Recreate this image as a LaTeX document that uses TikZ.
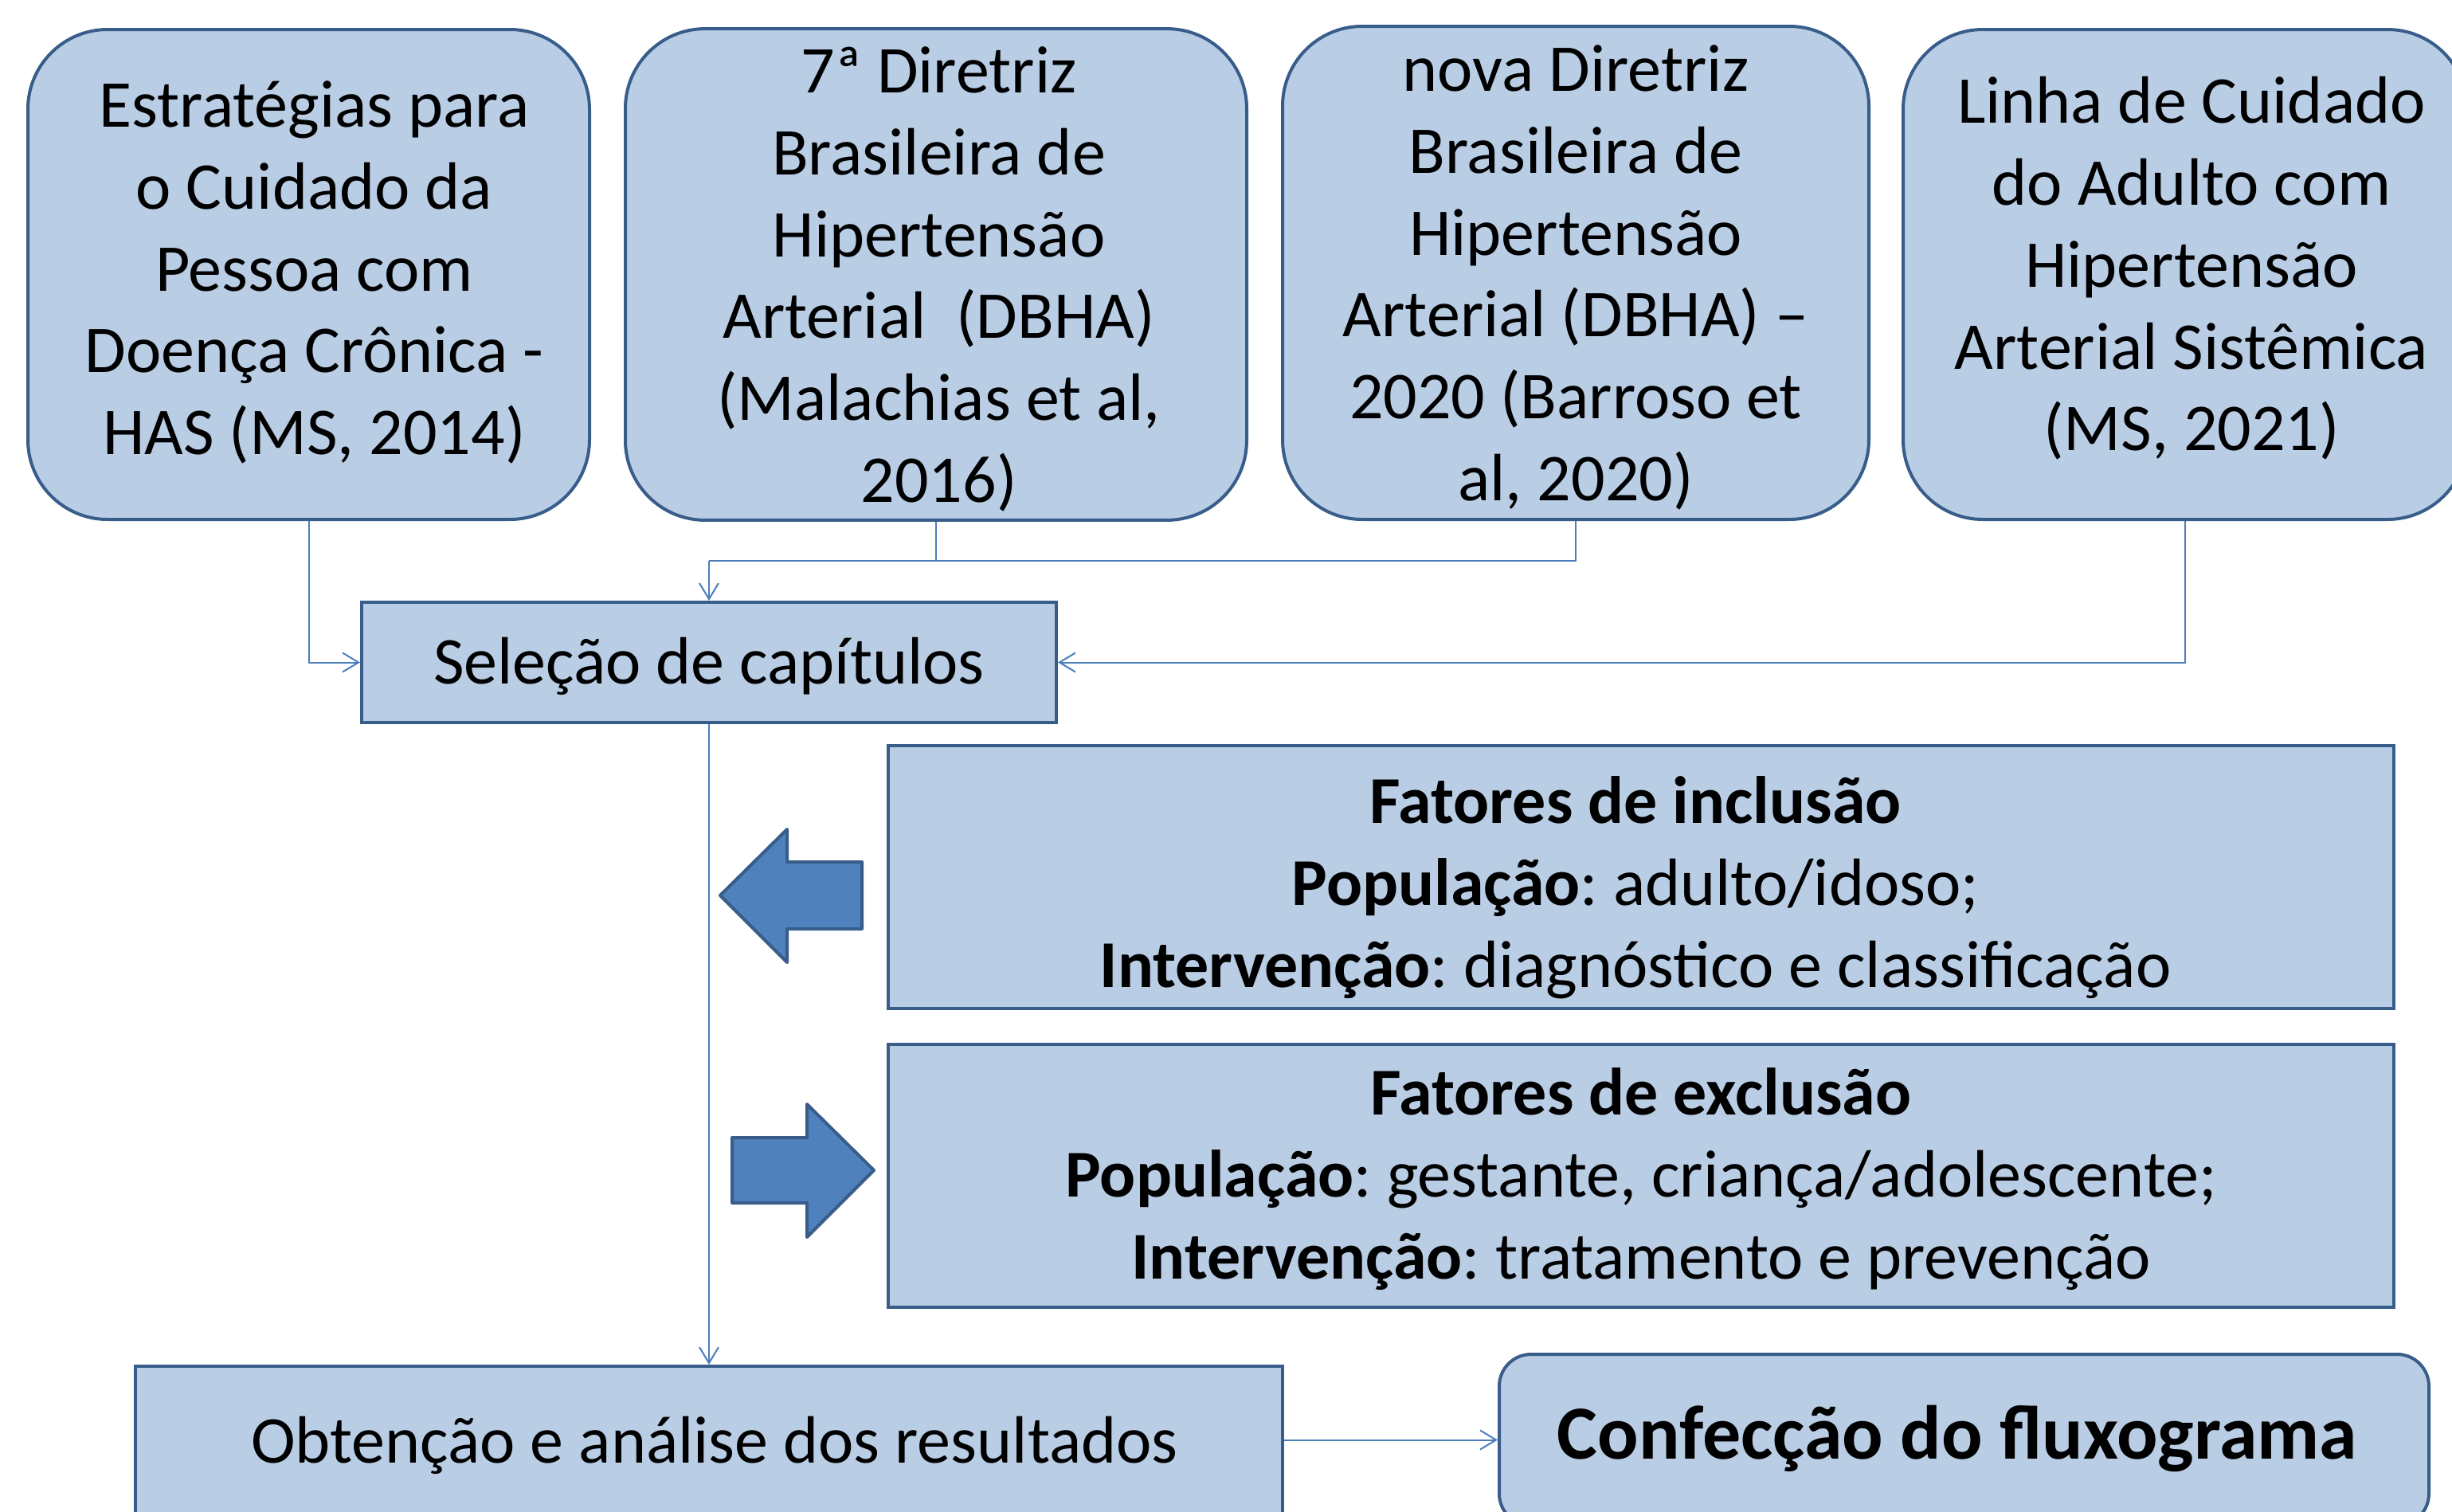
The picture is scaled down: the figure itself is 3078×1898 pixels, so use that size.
\documentclass[tikz,border=0pt]{standalone}
\usepackage{fontspec}
\setmainfont{Carlito}
\usetikzlibrary{arrows.meta}
\definecolor{boxfill}{HTML}{B9CDE5}
\definecolor{boxline}{HTML}{385D8A}
\definecolor{connline}{HTML}{4A7EBB}
\definecolor{arrfill}{HTML}{4F81BD}
% #1 = twice the horizontal offset, #2 = vertical raise, #3 = lines
\newcommand\boxtext[3]{\raisebox{#2}[\height][\depth]{\begin{tabular}{@{\hspace{#1}}c@{}}#3\end{tabular}}}
\tikzset{
  txt/.style={font=\fontsize{21}{25.7}\selectfont\frenchspacing, inner sep=0pt},
  rbox/.style={txt, draw=boxline, fill=boxfill, line width=1pt, rounded corners=25pt},
  sbox/.style={txt, draw=boxline, fill=boxfill, line width=1pt},
  conn/.style={draw=connline, line width=0.5pt, -{Straight Barb[length=5pt,width=6pt]}},
  plainline/.style={draw=connline, line width=0.5pt},
  blockarrow/.style={draw=boxline, fill=arrfill, line width=1pt, line join=round}
}
\begin{document}
\begin{tikzpicture}[x=0.25pt,y=-0.25pt]
\useasboundingbox (0,0) rectangle (3078,1898);
\node[rbox, minimum width=176.25pt, minimum height=153.75pt] (b1) at (387.5,344.5)
  {\boxtext{3.5pt}{0pt}{Estratégias para\\o Cuidado da\\Pessoa com\\Doença Crônica -\\HAS (MS, 2014)}};
\node[rbox, minimum width=195pt, minimum height=153.75pt] (b2) at (1175,344.5)
  {\boxtext{1.8pt}{-2.1pt}{7ª Diretriz\\Brasileira de\\Hipertensão\\Arterial\ \ (DBHA)\\(Malachias et al,\\2016)}};
\node[rbox, minimum width=184pt, minimum height=154.75pt] (b3) at (1978,342.5)
  {\boxtext{0pt}{-2.1pt}{nova Diretriz\\Brasileira de\\Hipertensão\\Arterial (DBHA) –\\2020 (Barroso et\\al, 2020)}};
\node[rbox, minimum width=177pt, minimum height=153.75pt] (b4) at (2743,344.5)
  {\boxtext{4pt}{1.2pt}{Linha de Cuidado\\do Adulto com\\Hipertensão\\Arterial Sistêmica\\(MS, 2021)}};
\node[sbox, minimum width=218pt, minimum height=37.75pt] (sel) at (890,831.5)
  {\boxtext{0pt}{-1.6pt}{Seleção de capítulos}};
\node[sbox, minimum width=472.5pt, minimum height=82.5pt] (inc) at (2060,1101)
  {\boxtext{-3.5pt}{-3.75pt}{\textbf{Fatores de inclusão}\\\textbf{População}: adulto/idoso;\\\textbf{Intervenção}: diagnóstico e classificação}};
\node[sbox, minimum width=472.5pt, minimum height=82.5pt] (exc) at (2060,1476)
  {\boxtext{0pt}{-1.5pt}{\textbf{Fatores de exclusão}\\\textbf{População}: gestante, criança/adolescente;\\\textbf{Intervenção}: tratamento e prevenção}};
\node[sbox, minimum width=360pt, minimum height=46.25pt] (obt) at (890,1807.5)
  {\boxtext{3.5pt}{-2pt}{Obtenção e análise dos resultados}};
\node[sbox, rounded corners=10pt, minimum width=291.75pt, minimum height=53.75pt,
  font=\fontsize{24}{29}\selectfont\bfseries] (conf) at (2465.5,1807.5)
  {\boxtext{-4.2pt}{-0.3pt}{Confecção do fluxograma}};
\coordinate (j) at (890,704);
\draw[conn] (b1.south) |- (sel.west);
\draw[plainline] (b3.south) |- (j);
\draw[plainline] (b2.south) -- (b2.south |- j);
\draw[conn] (j) -- (sel.north);
\draw[conn] (b4.south) |- (sel.east);
\draw[conn] (sel.south) -- (obt.north);
\draw[conn] (obt.east) -- (conf.west);
\draw[blockarrow] (904,1124) -- (988,1041) -- (988,1082) -- (1082,1082) -- (1082,1166) -- (988,1166) -- (988,1208) -- cycle;
\draw[blockarrow] (1097,1469) -- (1013,1386) -- (1013,1428) -- (919,1428) -- (919,1510) -- (1013,1510) -- (1013,1553) -- cycle;
\end{tikzpicture}
\end{document}
